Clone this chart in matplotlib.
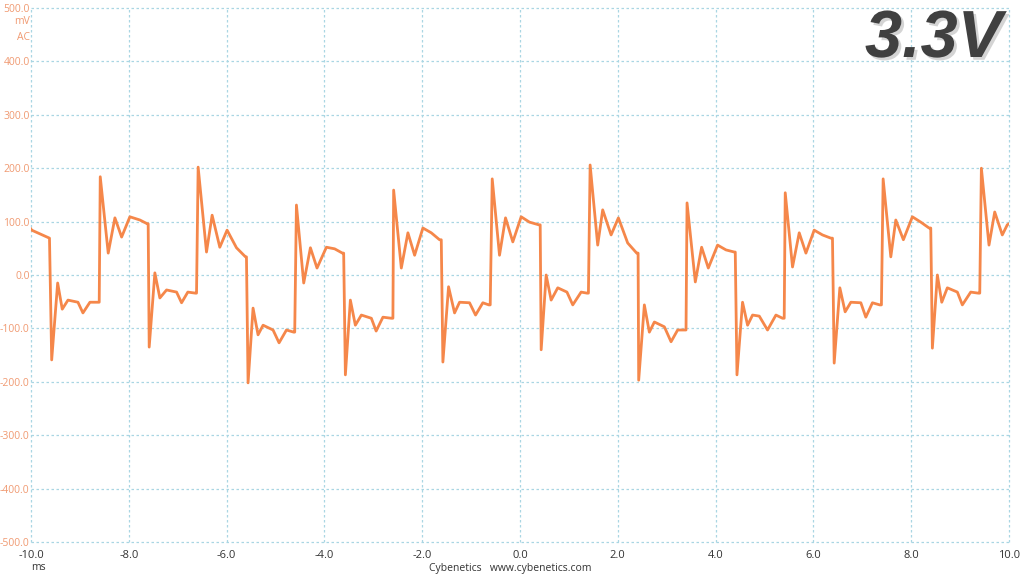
import numpy as np
import matplotlib.pyplot as plt
import matplotlib.patheffects as pe

# trace breakpoints (ms, mV)
t_ms = [-10.0, -9.986, -9.622, -9.577, -9.455, -9.361, -9.244, -9.040, -8.938, -8.795, -8.631,
        -8.605, -8.584, -8.421, -8.284, -8.147, -7.978, -7.773, -7.624,
        -7.604, -7.583, -7.467, -7.365, -7.228, -7.023, -6.921, -6.793, -6.635,
        -6.615, -6.582, -6.411, -6.296, -6.139, -5.990, -5.798, -5.614,
        -5.594, -5.561, -5.459, -5.357, -5.254, -5.050, -4.927, -4.776, -4.627,
        -4.607, -4.572, -4.423, -4.286, -4.151, -3.959, -3.790, -3.632,
        -3.606, -3.571, -3.469, -3.367, -3.244, -3.040, -2.942, -2.803, -2.631,
        -2.599, -2.584, -2.427, -2.292, -2.155, -1.986, -1.814, -1.645,
        -1.610, -1.577, -1.461, -1.338, -1.236, -1.032, -0.909, -0.760, -0.637,
        -0.609, -0.568, -0.419, -0.296, -0.147, 0.024, 0.194, 0.384,
        0.413, 0.433, 0.535, 0.637, 0.772, 0.960, 1.079, 1.250, 1.373,
        1.399, 1.434, 1.589, 1.691, 1.863, 2.012, 2.202, 2.386,
        2.415, 2.427, 2.543, 2.645, 2.748, 2.952, 3.089, 3.224, 3.360,
        3.395, 3.416, 3.585, 3.714, 3.851, 4.041, 4.212, 4.382,
        4.402, 4.437, 4.551, 4.654, 4.756, 4.893, 5.062, 5.234, 5.369,
        5.403, 5.424, 5.573, 5.710, 5.847, 6.016, 6.186, 6.357,
        6.390, 6.425, 6.541, 6.649, 6.766, 6.970, 7.072, 7.207, 7.358,
        7.391, 7.426, 7.583, 7.685, 7.840, 8.024, 8.196, 8.365,
        8.400, 8.433, 8.535, 8.625, 8.739, 8.944, 9.046, 9.217, 9.373,
        9.402, 9.435, 9.591, 9.708, 9.863, 9.965, 10.0]
v_mv = [86, 84, 69, -159, -15, -64, -47, -51, -71, -51, -51,
        -51, 184, 41, 107, 71, 109, 103, 96,
        96, -135, 4, -43, -28, -32, -52, -32, -34,
        -34, 202, 43, 112, 52, 84, 51, 34,
        34, -202, -62, -112, -94, -103, -127, -103, -107,
        -107, 131, -15, 51, 13, 52, 49, 41,
        41, -187, -47, -94, -75, -81, -105, -79, -81,
        -81, 159, 13, 79, 37, 88, 79, 66,
        66, -163, -22, -71, -51, -52, -75, -52, -56,
        -56, 180, 37, 107, 62, 109, 99, 94,
        94, -140, 0, -47, -24, -32, -56, -32, -34,
        -34, 206, 56, 122, 75, 107, 60, 41,
        41, -197, -56, -107, -88, -97, -125, -103, -103,
        -103, 135, -13, 52, 13, 56, 47, 43,
        43, -187, -51, -94, -75, -77, -103, -75, -81,
        -81, 154, 15, 79, 41, 84, 75, 69,
        69, -165, -24, -69, -51, -52, -79, -52, -56,
        -56, 180, 34, 103, 66, 109, 99, 88,
        88, -137, 0, -51, -24, -32, -56, -32, -34,
        -34, 200, 56, 118, 75, 94, 96]

xticks = np.arange(-10, 10.1, 2)
yticks = np.arange(-500, 501, 100)

fig = plt.figure(figsize=(10.24, 5.76), dpi=100)
ax = fig.add_axes([31/1024, 34/576, 978/1024, 534/576])

ax.plot(t_ms, v_mv, color='#f5874a', lw=2.0, solid_joinstyle='round', zorder=3)

ax.set_xlim(-10, 10)
ax.set_ylim(-500, 500)
ax.set_xticks(xticks)
ax.set_yticks(yticks)
ax.set_xticklabels([f'{x:.1f}' for x in xticks])
ax.set_yticklabels([f'{y:.1f}' for y in yticks])
for s in ax.spines.values():
    s.set_visible(False)
ax.grid(True, color='#a9d6e3', lw=0.9, ls=(0, (2, 2)))
for gl in ax.get_xgridlines() + ax.get_ygridlines():
    gl.set_clip_on(False)
ax.tick_params(length=0, labelsize=7.5)
ax.tick_params(axis='y', pad=1, labelcolor='#f09a72')
ax.tick_params(axis='x', pad=6, labelcolor='#333333', labelsize=8)
for lab in ax.get_xticklabels() + ax.get_yticklabels():
    lab.set_family('Open Sans')

fig.text(30/1024, 1 - 22/576, 'mV', ha='right', va='center', fontsize=7.5,
         color='#f09a72', family='Open Sans')
fig.text(30/1024, 1 - 37/576, 'AC', ha='right', va='center', fontsize=7.5,
         color='#f09a72', family='Open Sans')
fig.text(38/1024, 1 - 568/576, 'ms', ha='center', va='center', fontsize=7.5,
         color='#333333', family='Open Sans')
fig.text(510/1024, 1 - 569/576, 'Cybenetics   www.cybenetics.com', ha='center',
         va='center', fontsize=7.5, color='#333333', family='Open Sans')

fig.text(1002/1024, 1 - 40/576, '3.3V', ha='right', va='center', fontsize=48,
         fontweight='bold', style='italic', family='Liberation Sans', color='#404040',
         path_effects=[pe.withSimplePatchShadow(offset=(2, -2), shadow_rgbFace='#aaaaaa', alpha=0.5)])

fig.savefig('out.png', dpi=100)
